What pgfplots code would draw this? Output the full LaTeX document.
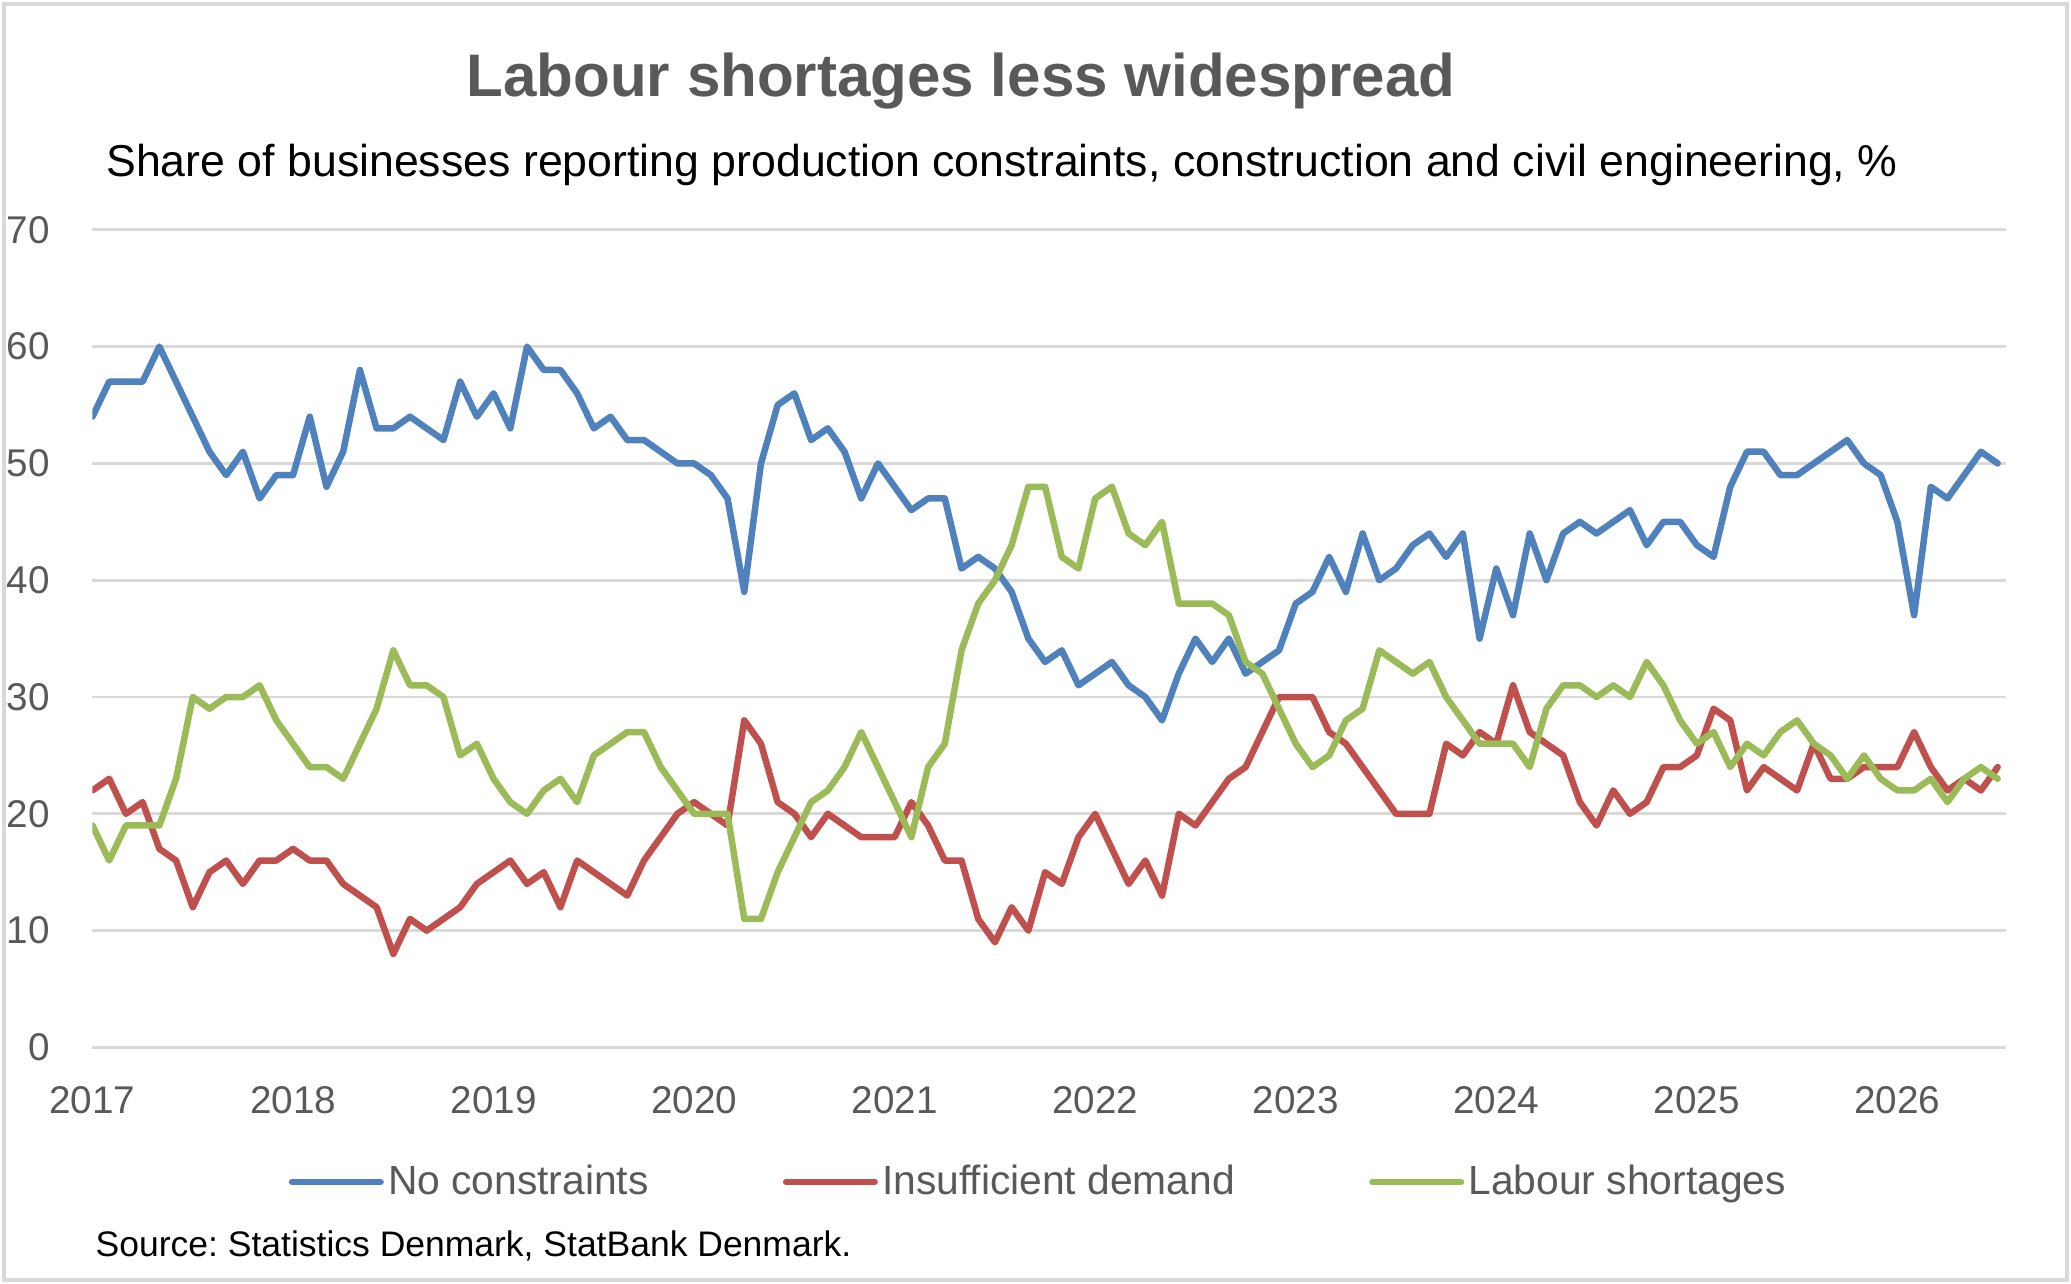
\documentclass[border=0pt]{standalone}
\usepackage{pgfplots}
\usepackage{pgfplotstable}
\pgfplotsset{compat=1.18}
\usepackage{fontspec}
\setmainfont{Liberation Sans}
\frenchspacing
\definecolor{ncblue}{HTML}{4F81BD}
\definecolor{dred}{HTML}{C0504D}
\definecolor{lgreen}{HTML}{9BBB59}
\definecolor{gridgray}{HTML}{D9D9D9}
\definecolor{labelgray}{HTML}{595959}
\definecolor{bordergray}{HTML}{D9D9D9}

\pgfplotstableread{
idx nc dem lab
0 54 22 19
1 57 23 16
2 57 20 19
3 57 21 19
4 60 17 19
5 57 16 23
6 54 12 30
7 51 15 29
8 49 16 30
9 51 14 30
10 47 16 31
11 49 16 28
12 49 17 26
13 54 16 24
14 48 16 24
15 51 14 23
16 58 13 26
17 53 12 29
18 53 8 34
19 54 11 31
20 53 10 31
21 52 11 30
22 57 12 25
23 54 14 26
24 56 15 23
25 53 16 21
26 60 14 20
27 58 15 22
28 58 12 23
29 56 16 21
30 53 15 25
31 54 14 26
32 52 13 27
33 52 16 27
34 51 18 24
35 50 20 22
36 50 21 20
37 49 20 20
38 47 19 20
39 39 28 11
40 50 26 11
41 55 21 15
42 56 20 18
43 52 18 21
44 53 20 22
45 51 19 24
46 47 18 27
47 50 18 24
48 48 18 21
49 46 21 18
50 47 19 24
51 47 16 26
52 41 16 34
53 42 11 38
54 41 9 40
55 39 12 43
56 35 10 48
57 33 15 48
58 34 14 42
59 31 18 41
60 32 20 47
61 33 17 48
62 31 14 44
63 30 16 43
64 28 13 45
65 32 20 38
66 35 19 38
67 33 21 38
68 35 23 37
69 32 24 33
70 33 27 32
71 34 30 29
72 38 30 26
73 39 30 24
74 42 27 25
75 39 26 28
76 44 24 29
77 40 22 34
78 41 20 33
79 43 20 32
80 44 20 33
81 42 26 30
82 44 25 28
83 35 27 26
84 41 26 26
85 37 31 26
86 44 27 24
87 40 26 29
88 44 25 31
89 45 21 31
90 44 19 30
91 45 22 31
92 46 20 30
93 43 21 33
94 45 24 31
95 45 24 28
96 43 25 26
97 42 29 27
98 48 28 24
99 51 22 26
100 51 24 25
101 49 23 27
102 49 22 28
103 50 26 26
104 51 23 25
105 52 23 23
106 50 24 25
107 49 24 23
108 45 24 22
109 37 27 22
110 48 24 23
111 47 22 21
112 49 23 23
113 51 22 24
114 50 24 23
}\datatable

\begin{document}
\begin{tikzpicture}
\useasboundingbox (0,0) rectangle (207.1mm,128.4mm);
\fill[white] (0,0) rectangle (207.1mm,128.4mm);
\draw[bordergray, line width=0.9pt] (0.4mm,0.4mm) rectangle (206.7mm,128.0mm);

\node[anchor=base, inner sep=0pt, text=labelgray, font=\bfseries\fontsize{17.1}{20}\selectfont] at (96.1mm,118.73mm) {Labour shortages less widespread};
\node[anchor=base west, inner sep=0pt, text=black, font=\fontsize{12.7}{15}\selectfont] at (10.57mm,110.73mm) {Share of businesses reporting production constraints, construction and civil engineering, \%};
\node[anchor=base west, inner sep=0pt, text=black, font=\fontsize{10.1}{12}\selectfont] at (9.5mm,2.73mm) {Source: Statistics Denmark, StatBank Denmark.};

\begin{axis}[
  at={(9.25mm,23.66mm)}, anchor=south west,
  scale only axis, width=191.35mm, height=81.76mm,
  xmin=0, xmax=114.5, ymin=0, ymax=70,
  axis line style={draw=none},
  major tick length=0pt,
  ytick={0,10,...,70},
  xtick={0,12,...,108},
  xticklabels={2017,2018,2019,2020,2021,2022,2023,2024,2025,2026},
  ymajorgrids, grid style={draw=gridgray, line width=0.8pt},
  /pgf/number format/assume math mode=true,
  tick label style={font=\fontsize{11}{12}\selectfont, text=labelgray},
  yticklabel style={anchor=east, inner sep=0pt, xshift=-12pt},
  xticklabel style={anchor=north, inner sep=0pt, yshift=-11pt},
  legend columns=3,
  legend style={draw=none, fill=none, at={(axis description cs:0.1022,-0.1646)}, anchor=west,
    font=\fontsize{11.6}{13}\selectfont, text=labelgray, inner sep=0pt,
    nodes={inner sep=1.2pt},
    /tikz/every even column/.append style={column sep=37pt}},
  legend image code/.code={\draw[#1, line cap=round] (0.9pt,0pt) -- (26.1pt,0pt);},
  every axis plot/.append style={line width=1.85pt, line join=round, line cap=round},
]
\addplot[color=ncblue] table[x=idx, y=nc] {\datatable};
\addlegendentry{No constraints}
\addplot[color=dred] table[x=idx, y=dem] {\datatable};
\addlegendentry{Insufficient demand}
\addplot[color=lgreen] table[x=idx, y=lab] {\datatable};
\addlegendentry{Labour shortages}
\end{axis}
\end{tikzpicture}
\end{document}
